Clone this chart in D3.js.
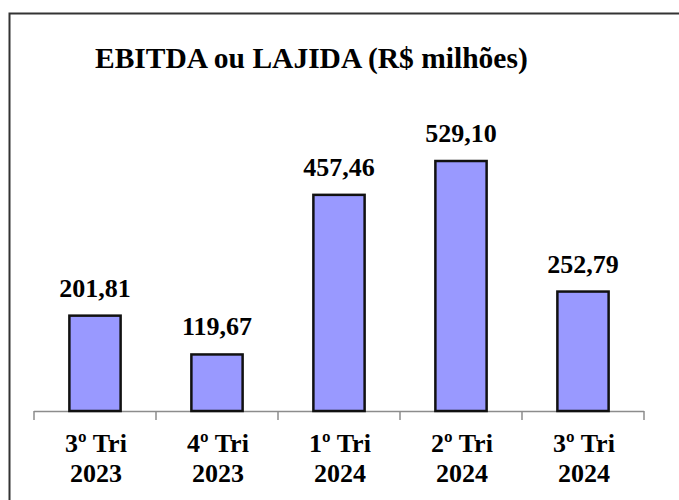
<!DOCTYPE html>
<html>
<head>
<meta charset="utf-8">
<script src="https://cdn.jsdelivr.net/npm/d3@7"></script>
<style>
  body { margin: 0; background: #fff; }
  svg { display: block; }
  text { font-family: "Liberation Serif", "Times New Roman", serif; font-weight: bold; fill: #000; }
</style>
</head>
<body>
<svg id="chart"></svg>
<script>
const quarters = ["3º Tri", "4º Tri", "1º Tri", "2º Tri", "3º Tri"];
const years = ["2023", "2023", "2024", "2024", "2024"];
const ebitda = [201.81, 119.67, 457.46, 529.10, 252.79];
const chartTitle = "EBITDA ou LAJIDA (R$ milhões)";

const w = 679;
const h = 500;
const left = 34;
const right = 644;
const baseline = 411;

const svg = d3.select("#chart")
  .attr("width", w)
  .attr("height", h);

// outer frame (runs off the right and bottom edge in the reference)
svg.append("rect")
  .attr("x", 9.5)
  .attr("y", 13.5)
  .attr("width", 700)
  .attr("height", 520)
  .attr("fill", "none")
  .attr("stroke", "#333")
  .attr("stroke-width", 2);

svg.append("text")
  .attr("x", 95)
  .attr("y", 68)
  .style("font-size", "29.5px")
  .text(chartTitle);

const idx = d3.range(ebitda.length);

const xBand = d3.scaleBand()
  .domain(idx)
  .range([left, right])
  .paddingInner(0.58)
  .paddingOuter(0.29);

const xCat = d3.scaleBand()
  .domain(idx)
  .range([left, right]);

const yScale = d3.scaleLinear()
  .domain([0, 600])
  .range([baseline, baseline - 600 * 0.4725]);

// category axis line with ticks at the boundaries
const axis = svg.append("g").attr("stroke", "#8c8c8c").attr("stroke-width", 1.5);
axis.append("line")
  .attr("x1", left).attr("x2", right)
  .attr("y1", baseline + 0.5).attr("y2", baseline + 0.5);
axis.selectAll("line.tick")
  .data(idx.concat([ebitda.length]))
  .enter()
  .append("line")
  .attr("class", "tick")
  .attr("x1", d => d < ebitda.length ? xCat(d) : right)
  .attr("x2", d => d < ebitda.length ? xCat(d) : right)
  .attr("y1", baseline)
  .attr("y2", baseline + 9);

svg.selectAll("rect.bar")
  .data(ebitda)
  .enter()
  .append("rect")
  .attr("class", "bar")
  .attr("x", (d, i) => xBand(i))
  .attr("y", d => yScale(d))
  .attr("width", xBand.bandwidth())
  .attr("height", d => yScale(0) - yScale(d))
  .attr("fill", "#9999ff")
  .attr("stroke", "#111")
  .attr("stroke-width", 2.5);

svg.selectAll("text.value")
  .data(ebitda)
  .enter()
  .append("text")
  .attr("class", "value")
  .attr("x", (d, i) => xBand(i) + xBand.bandwidth() / 2)
  .attr("y", d => yScale(d) - 19)
  .attr("text-anchor", "middle")
  .style("font-size", "26px")
  .text(d => d3.format(".2f")(d).replace(".", ","));

const labels = svg.selectAll("text.cat")
  .data(idx)
  .enter()
  .append("text")
  .attr("class", "cat")
  .attr("text-anchor", "middle")
  .style("font-size", "26px");

labels.append("tspan")
  .attr("x", i => xCat(i) + xCat.bandwidth() / 2 + 1)
  .attr("y", 452)
  .text(i => quarters[i]);

labels.append("tspan")
  .attr("x", i => xCat(i) + xCat.bandwidth() / 2 + 1)
  .attr("y", 482)
  .text(i => years[i]);
</script>
</body>
</html>
